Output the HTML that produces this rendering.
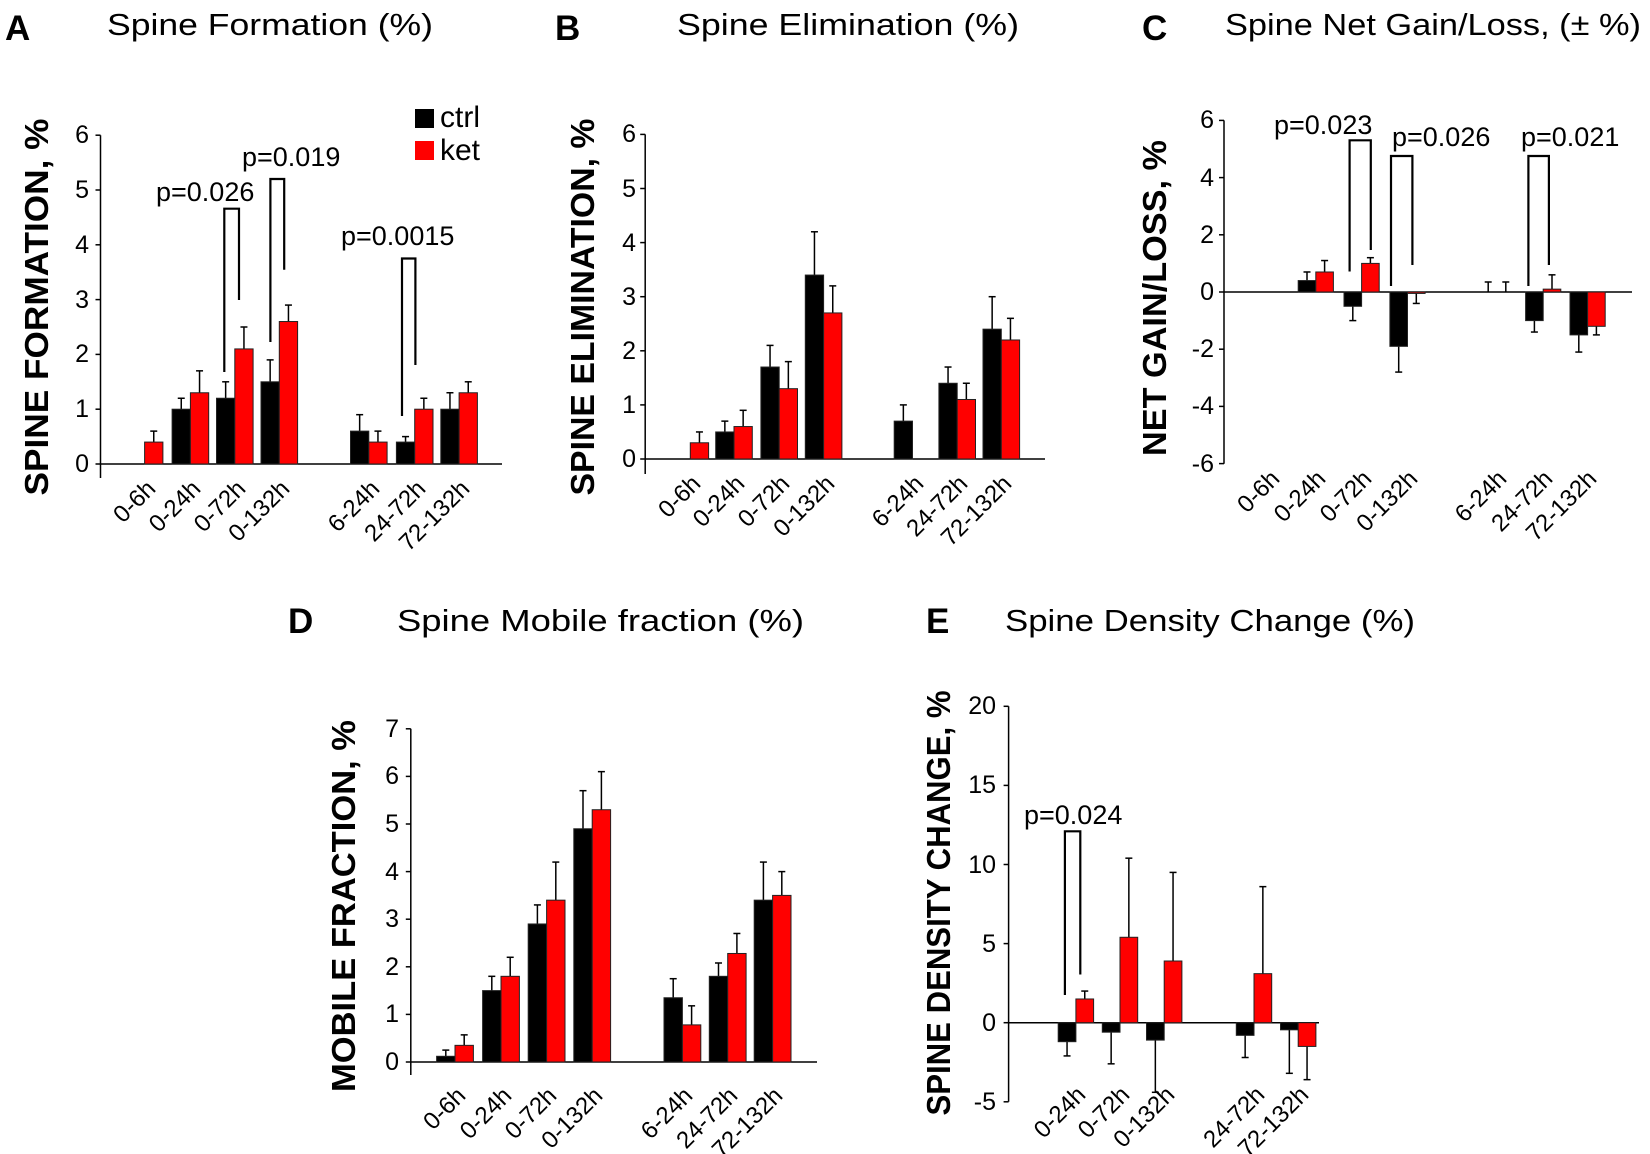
<!DOCTYPE html>
<html><head><meta charset="utf-8"><style>
html,body{margin:0;padding:0;background:#fff;}
svg{display:block;}
text{font-family:"Liberation Sans",Arial,sans-serif;fill:#000;}
.t{font-size:31px;}
.L{font-size:35px;font-weight:bold;}
.yl{font-size:33px;font-weight:bold;}
.tk{font-size:25px;}
.xl{font-size:24px;}
.p{font-size:27px;}
.lg{font-size:30px;}
</style></head><body>
<svg id="s" width="1650" height="1154" viewBox="0 0 1650 1154" xmlns="http://www.w3.org/2000/svg">
<rect width="1650" height="1154" fill="#fff"/>
<g id="g"></g>
<!-- Panel A -->
<text class="L" x="5" y="40">A</text>
<text class="t" x="107" y="35" textLength="326" lengthAdjust="spacingAndGlyphs">Spine Formation (%)</text>
<text class="yl" transform="translate(48,307) rotate(-90)" text-anchor="middle" textLength="377" lengthAdjust="spacingAndGlyphs">SPINE FORMATION, %</text>
<g class="tk" text-anchor="end" dominant-baseline="central">
<text x="89" y="464">0</text><text x="89" y="409">1</text><text x="89" y="354">2</text><text x="89" y="300">3</text><text x="89" y="245">4</text><text x="89" y="190">5</text><text x="89" y="135">6</text>
</g>
<rect x="415" y="109" width="19" height="19" fill="#000"/>
<rect x="415" y="141" width="19" height="19" fill="#ff0000"/>
<text class="lg" x="440" y="127">ctrl</text>
<text class="lg" x="440" y="160">ket</text>
<g class="p">
<text x="156" y="201">p=0.026</text>
<text x="242" y="166">p=0.019</text>
<text x="341" y="245">p=0.0015</text>
</g>
<g class="xl" text-anchor="end">
<text transform="translate(157,490) rotate(-45)">0-6h</text>
<text transform="translate(202,490) rotate(-45)">0-24h</text>
<text transform="translate(247,490) rotate(-45)">0-72h</text>
<text transform="translate(291,490) rotate(-45)">0-132h</text>
<text transform="translate(381,490) rotate(-45)">6-24h</text>
<text transform="translate(427,490) rotate(-45)">24-72h</text>
<text transform="translate(471,490) rotate(-45)">72-132h</text>
</g>
<!-- Panel B -->
<text class="L" x="555" y="40">B</text>
<text class="t" x="677" y="35" textLength="342" lengthAdjust="spacingAndGlyphs">Spine Elimination (%)</text>
<text class="yl" transform="translate(594,307) rotate(-90)" text-anchor="middle" textLength="377" lengthAdjust="spacingAndGlyphs">SPINE ELIMINATION, %</text>
<g class="tk" text-anchor="end" dominant-baseline="central">
<text x="636" y="459">0</text><text x="636" y="405">1</text><text x="636" y="351">2</text><text x="636" y="297">3</text><text x="636" y="243">4</text><text x="636" y="189">5</text><text x="636" y="134">6</text>
</g>
<g class="xl" text-anchor="end">
<text transform="translate(702,485) rotate(-45)">0-6h</text>
<text transform="translate(746,485) rotate(-45)">0-24h</text>
<text transform="translate(791,485) rotate(-45)">0-72h</text>
<text transform="translate(836,485) rotate(-45)">0-132h</text>
<text transform="translate(925,485) rotate(-45)">6-24h</text>
<text transform="translate(969,485) rotate(-45)">24-72h</text>
<text transform="translate(1013,485) rotate(-45)">72-132h</text>
</g>
<!-- Panel C -->
<text class="L" x="1142" y="40">C</text>
<text class="t" x="1225" y="35" textLength="416" lengthAdjust="spacingAndGlyphs">Spine Net Gain/Loss, (± %)</text>
<text class="yl" transform="translate(1166,298) rotate(-90)" text-anchor="middle" textLength="316" lengthAdjust="spacingAndGlyphs">NET GAIN/LOSS, %</text>
<g class="tk" text-anchor="end" dominant-baseline="central">
<text x="1214" y="120">6</text><text x="1214" y="178">4</text><text x="1214" y="235">2</text><text x="1214" y="292">0</text><text x="1214" y="349">-2</text><text x="1214" y="406">-4</text><text x="1214" y="464">-6</text>
</g>
<g class="p">
<text x="1274" y="134">p=0.023</text>
<text x="1392" y="146">p=0.026</text>
<text x="1521" y="146">p=0.021</text>
</g>
<g class="xl" text-anchor="end">
<text transform="translate(1281,480) rotate(-45)">0-6h</text>
<text transform="translate(1327,480) rotate(-45)">0-24h</text>
<text transform="translate(1373,480) rotate(-45)">0-72h</text>
<text transform="translate(1419,480) rotate(-45)">0-132h</text>
<text transform="translate(1508,480) rotate(-45)">6-24h</text>
<text transform="translate(1554,480) rotate(-45)">24-72h</text>
<text transform="translate(1598,480) rotate(-45)">72-132h</text>
</g>
<!-- Panel D -->
<text class="L" x="288" y="633">D</text>
<text class="t" x="397" y="631" textLength="407" lengthAdjust="spacingAndGlyphs">Spine Mobile fraction (%)</text>
<text class="yl" transform="translate(355,906) rotate(-90)" text-anchor="middle" textLength="372" lengthAdjust="spacingAndGlyphs">MOBILE FRACTION, %</text>
<g class="tk" text-anchor="end" dominant-baseline="central">
<text x="399" y="1062">0</text><text x="399" y="1014">1</text><text x="399" y="967">2</text><text x="399" y="919">3</text><text x="399" y="872">4</text><text x="399" y="824">5</text><text x="399" y="776">6</text><text x="399" y="729">7</text>
</g>
<g class="xl" text-anchor="end">
<text transform="translate(467,1097) rotate(-45)">0-6h</text>
<text transform="translate(513,1097) rotate(-45)">0-24h</text>
<text transform="translate(558,1097) rotate(-45)">0-72h</text>
<text transform="translate(604,1097) rotate(-45)">0-132h</text>
<text transform="translate(694,1097) rotate(-45)">6-24h</text>
<text transform="translate(739,1097) rotate(-45)">24-72h</text>
<text transform="translate(784,1097) rotate(-45)">72-132h</text>
</g>
<!-- Panel E -->
<text class="L" x="926" y="633">E</text>
<text class="t" x="1005" y="631" textLength="410" lengthAdjust="spacingAndGlyphs">Spine Density Change (%)</text>
<text class="yl" transform="translate(950,903) rotate(-90)" text-anchor="middle" textLength="425" lengthAdjust="spacingAndGlyphs">SPINE DENSITY CHANGE, %</text>
<g class="tk" text-anchor="end" dominant-baseline="central">
<text x="996" y="706">20</text><text x="996" y="785">15</text><text x="996" y="865">10</text><text x="996" y="944">5</text><text x="996" y="1023">0</text><text x="996" y="1102">-5</text>
</g>
<text class="p" x="1024" y="824">p=0.024</text>
<g class="xl" text-anchor="end">
<text transform="translate(1087,1096) rotate(-45)">0-24h</text>
<text transform="translate(1131,1096) rotate(-45)">0-72h</text>
<text transform="translate(1176,1096) rotate(-45)">0-132h</text>
<text transform="translate(1266,1096) rotate(-45)">24-72h</text>
<text transform="translate(1310,1096) rotate(-45)">72-132h</text>
</g>
</svg>
<script>
var NS="http://www.w3.org/2000/svg",G=document.getElementById("g");
function el(t,a){var e=document.createElementNS(NS,t);for(var k in a)e.setAttribute(k,a[k]);G.appendChild(e);return e;}
function ln(x1,y1,x2,y2,w){el("line",{x1:x1,y1:y1,x2:x2,y2:y2,stroke:"#000","stroke-width":w||1.5});}
function pl(pts){el("polyline",{points:pts,fill:"none",stroke:"#000","stroke-width":2.2});}
function panel(c){
 var Y=function(v){return c.y0-v*c.u;};
 ln(c.ax,Y(c.top),c.ax,c.bot);
 ln(c.ax,c.y0,c.xr,c.y0);
 c.ticks.forEach(function(v){ln(c.ax-5,Y(v),c.ax,Y(v));});
 c.d.forEach(function(g,i){
  var cx=c.c[i];
  [0,1].forEach(function(j){
   var b=g[j]; if(!b) return;
   var x=j==0?cx-c.bw:cx, v=b[0], e=b[1], mid=x+c.bw/2;
   var y1=Math.min(Y(v),c.y0), h=Math.abs(Y(v)-c.y0);
   ln(mid,Y(v),mid,Y(e),1.5); ln(mid-3.5,Y(e),mid+3.5,Y(e),1.5);
   if(h>0.5) el("rect",{x:x,y:y1,width:c.bw,height:h,fill:j==0?"#000":"#ff0000",stroke:"#222","stroke-width":1});
  });
 });
}
panel({ax:100.5,y0:464,u:54.8,top:6,bot:478,xr:502,bw:18.3,ticks:[0,1,2,3,4,5,6],
 c:[144.6,190.4,234.8,279.3,368.8,414.7,459.1],
 d:[[null,[0.4,0.6]],[[1,1.2],[1.3,1.7]],[[1.2,1.5],[2.1,2.5]],[[1.5,1.9],[2.6,2.9]],[[0.6,0.9],[0.4,0.6]],[[0.4,0.5],[1,1.2]],[[1,1.3],[1.3,1.5]]]});
panel({ax:645.2,y0:459,u:54.1,top:6,bot:474,xr:1045,bw:18.3,ticks:[0,1,2,3,4,5,6],
 c:[690.3,734,779.2,823.6,912.5,957.2,1001.3],
 d:[[null,[0.3,0.5]],[[0.5,0.7],[0.6,0.9]],[[1.7,2.1],[1.3,1.8]],[[3.4,4.2],[2.7,3.2]],[[0.7,1.0],null],[[1.4,1.7],[1.1,1.4]],[[2.4,3.0],[2.2,2.6]]]});
panel({ax:1224,y0:292,u:28.6,top:6,bot:463.7,xr:1632,bw:17.6,ticks:[6,4,2,0,-2,-4,-6],
 c:[1270,1315.8,1361.6,1407.5,1497,1543.2,1587.6],
 d:[[null,null],[[0.4,0.7],[0.7,1.1]],[[-0.5,-1.0],[1.0,1.2]],[[-1.9,-2.8],[-0.05,-0.4]],[[0,0.35],[0,0.35]],[[-1.0,-1.4],[0.1,0.6]],[[-1.5,-2.1],[-1.2,-1.5]]]});
panel({ax:410.8,y0:1062,u:47.6,top:7,bot:1075,xr:817,bw:18.4,ticks:[0,1,2,3,4,5,6,7],
 c:[455,501,546.6,592.2,682.4,727.7,772.6],
 d:[[[0.12,0.25],[0.35,0.57]],[[1.5,1.8],[1.8,2.2]],[[2.9,3.3],[3.4,4.2]],[[4.9,5.7],[5.3,6.1]],[[1.35,1.75],[0.78,1.18]],[[1.8,2.08],[2.28,2.7]],[[3.4,4.2],[3.5,4.0]]]});
panel({ax:1008.6,y0:1022.7,u:15.82,top:20,bot:1101.8,xr:1319,bw:17.7,ticks:[20,15,10,5,0,-5],
 c:[1075.9,1120,1164.2,1254,1298.2],
 d:[[[-1.2,-2.1],[1.5,2.0]],[[-0.6,-2.6],[5.4,10.4]],[[-1.1,-4.4],[3.9,9.5]],[[-0.8,-2.2],[3.1,8.6]],[[-0.45,-3.2],[-1.5,-3.6]]]});
pl("224.3,372 224.3,208.7 239,208.7 239,300");
pl("270.4,342 270.4,179 284.2,179 284.2,269.7");
pl("402,416 402,258.5 415.4,258.5 415.4,365");
pl("1349.6,271.5 1349.6,140.3 1370.8,140.3 1370.8,250");
pl("1391,286 1391,156 1412.4,156 1412.4,265");
pl("1528.4,286 1528.4,156 1548.9,156 1548.9,265");
pl("1064.9,995 1064.9,831.3 1080.3,831.3 1080.3,974.5");
</script>
</body></html>
